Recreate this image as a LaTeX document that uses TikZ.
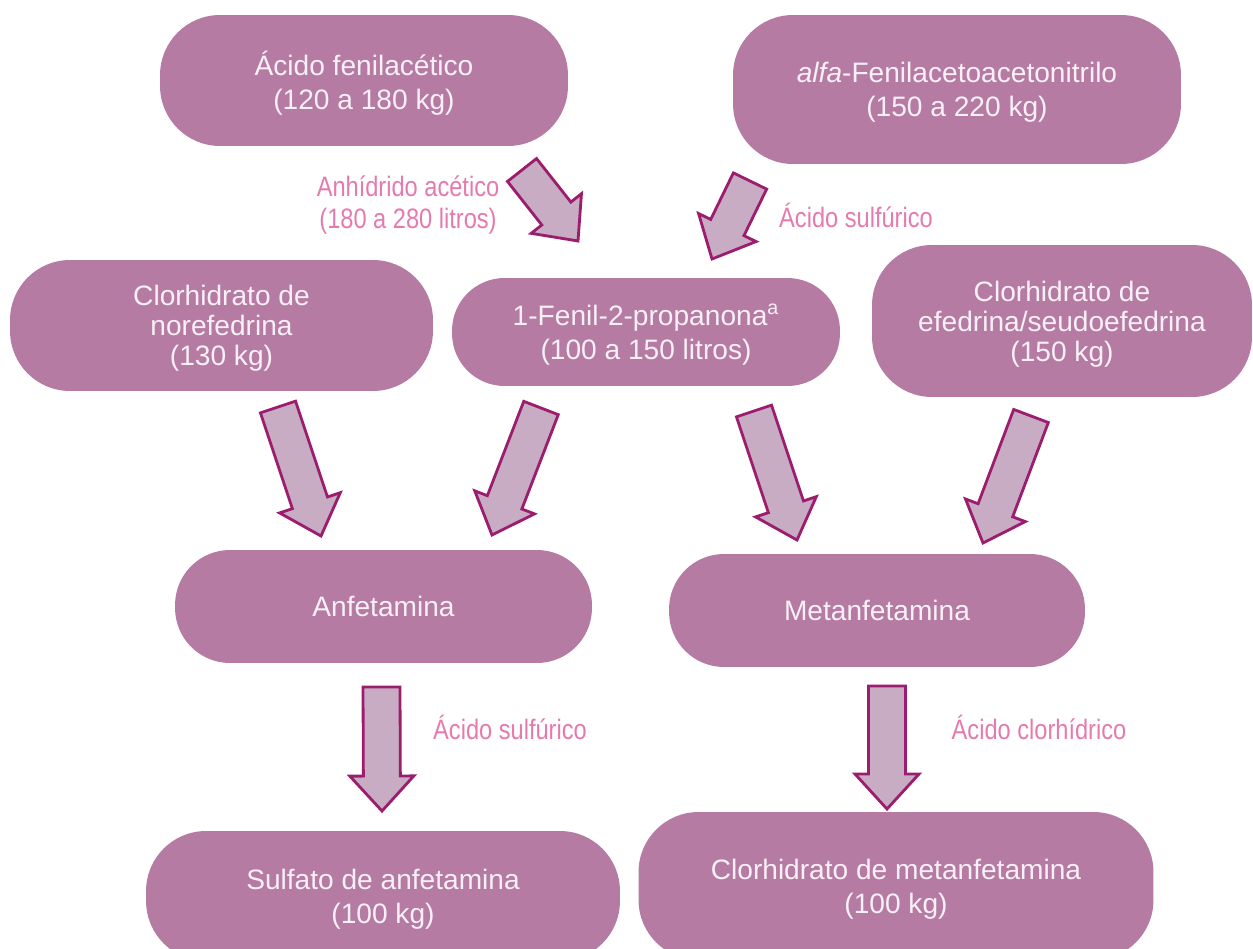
\documentclass[tikz,border=0pt]{standalone}
\usepackage{fontspec}
\setmainfont{Liberation Sans}
\newfontfamily\condfont{Liberation Sans}[FakeStretch=0.84]
\usetikzlibrary{calc}

\definecolor{boxpink}{RGB}{181,123,163}
\definecolor{boxtext}{RGB}{248,240,246}
\definecolor{lblpink}{RGB}{230,122,174}
\definecolor{arrowfill}{RGB}{199,172,195}
\definecolor{arrowline}{RGB}{156,28,110}

% block arrow from a tail coordinate to a tip coordinate
\newcommand{\blockarrow}[2]{%
  \coordinate (neck) at ($(#2)!0.7cm!(#1)$);
  \draw[fatarrow] ($(#1)!0.37cm!90:(#2)$) -- ($(neck)!0.37cm!90:(#2)$)
    -- ($(neck)!0.64cm!90:(#2)$) -- (#2) -- ($(neck)!0.64cm!-90:(#2)$)
    -- ($(neck)!0.37cm!-90:(#2)$) -- ($(#1)!0.37cm!-90:(#2)$) -- cycle;}

\begin{document}
\begin{tikzpicture}[x=0.02cm, y=-0.02cm, font=\fontsize{16}{19.5}\selectfont,
    box/.style={fill=boxpink, text=boxtext, rounded corners=1.2cm, align=center, inner sep=0pt, text depth=0pt},
    tallbox/.style={box, font=\fontsize{16}{17}\selectfont},
    lbl/.style={text=lblpink, align=center, font=\fontsize{16}{18.5}\selectfont\condfont},
    fatarrow/.style={fill=arrowfill, draw=arrowline, line width=1.6pt, line join=miter}]
  \useasboundingbox (0,0) rectangle (1253,949);

  % top row
  \node [box, minimum width=8.16cm, minimum height=2.62cm] (fenil) at (364,80.5)
    {Ácido fenilacético\\(120 a 180 kg)};
  \node [box, minimum width=8.96cm, minimum height=2.98cm] (alfa) at (957,89.5)
    {\textit{alfa}-Fenilacetoacetonitrilo\\(150 a 220 kg)};

  % middle row
  \node [tallbox, minimum width=8.46cm, minimum height=2.62cm] (nore) at (221.5,325.5)
    {Clorhidrato de\\norefedrina\\(130 kg)};
  \node [box, rounded corners=1.05cm, minimum width=7.76cm, minimum height=2.16cm] (ppn) at (646,332)
    {1-Fenil-2-propanona\textsuperscript{a}\\(100 a 150 litros)};
  \node [tallbox, minimum width=7.6cm, minimum height=3.04cm] (efed) at (1062,321)
    {Clorhidrato de\\efedrina/seudoefedrina\\(150 kg)};

  % products
  \node [box, rounded corners=1.1cm, minimum width=8.34cm, minimum height=2.26cm] (anf) at (383.5,606.5) {Anfetamina};
  \node [box, rounded corners=1.1cm, minimum width=8.32cm, minimum height=2.26cm] (meta) at (877,610.5) {Metanfetamina};
  \node [box, minimum width=9.48cm, minimum height=2.6cm] (sulf) at (383,896)
    {Sulfato de anfetamina\\(100 kg)};
  \node [box, minimum width=10.3cm, minimum height=2.96cm] (clmet) at (896,886)
    {Clorhidrato de metanfetamina\\(100 kg)};

  % reagents
  \node [lbl] (anhid) at (408,205) {Anhídrido acético\\(180 a 280 litros)};
  \node [lbl] (sulfa) at (856,215) {Ácido sulfúrico};
  \node [lbl] (sulfb) at (510,727) {Ácido sulfúrico};
  \node [lbl] (clorh) at (1039,727) {Ácido clorhídrico};

  % arrow ends
  \coordinate (fenil-out) at (522,170);  \coordinate (ppn-in1) at (578,241);
  \coordinate (alfa-out) at (750,181);   \coordinate (ppn-in2) at (712,259);
  \coordinate (nore-out) at (278,407);   \coordinate (anf-in1) at (321,536);
  \coordinate (ppn-out1) at (541,408);   \coordinate (anf-in2) at (492,535);
  \coordinate (ppn-out2) at (754,411);   \coordinate (meta-in1) at (797,540);
  \coordinate (efed-out) at (1031,416);  \coordinate (meta-in2) at (983,543);
  \coordinate (anf-out) at (381.5,687);  \coordinate (sulf-in) at (382,811);
  \coordinate (meta-out) at (887,686);   \coordinate (clmet-in) at (887,809);

  \blockarrow{fenil-out}{ppn-in1}
  \blockarrow{alfa-out}{ppn-in2}
  \blockarrow{nore-out}{anf-in1}
  \blockarrow{ppn-out1}{anf-in2}
  \blockarrow{ppn-out2}{meta-in1}
  \blockarrow{efed-out}{meta-in2}
  \blockarrow{anf-out}{sulf-in}
  \blockarrow{meta-out}{clmet-in}
\end{tikzpicture}
\end{document}
